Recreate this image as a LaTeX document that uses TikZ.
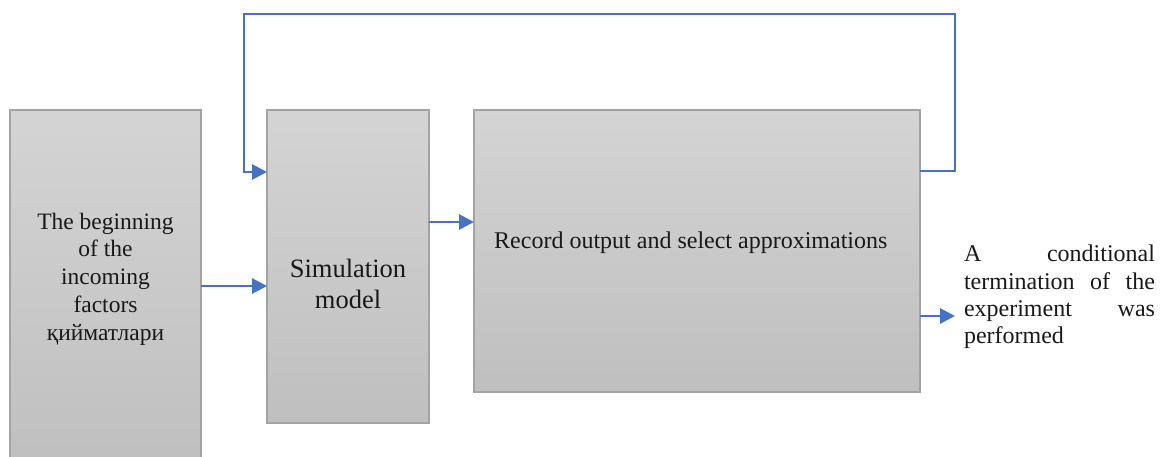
\documentclass[tikz,border=0pt]{standalone}
\usepackage{fontspec}
\setmainfont{Liberation Serif}
\usetikzlibrary{arrows.meta}
\definecolor{flowblue}{RGB}{68,114,196}
\definecolor{boxedge}{RGB}{163,163,163}
\definecolor{boxtop}{RGB}{212,212,212}
\definecolor{boxbot}{RGB}{191,191,191}

\begin{document}
\begin{tikzpicture}[x=1pt,y=-1pt,
  block/.style={draw=boxedge, line width=1.3pt, top color=boxtop, bottom color=boxbot,
    inner sep=0pt, outer sep=0pt, minimum width=#1},
  txt/.style={inner sep=0pt, text=black!90},
  flow/.style={draw=flowblue, line width=2.8pt, line join=miter,
    -{Triangle[length=15pt,width=15pt]}}]
  \useasboundingbox (0,0) rectangle (1161,457);
  \clip (0,0) rectangle (1161,457);

  % blocks
  \node[block=191pt, minimum height=360pt] (inp) at (105.5,290) {};
  \node[block=162pt, minimum height=313pt] (sim) at (348,266.5) {};
  \node[block=446pt, minimum height=282pt] (rec) at (697,251) {};

  % block texts
  \node[txt, align=center, font=\fontsize{23.5}{27.7}\selectfont] (inptxt) at (105.5,279)
    {The beginning\\of the\\incoming\\factors\\қийматлари};
  \node[txt, align=center, font=\fontsize{26.5}{31}\selectfont] (simtxt) at (348,284)
    {Simulation\\model};
  \node[txt, anchor=west, font=\fontsize{24}{28}\selectfont] (rectxt) at (494,243)
    {Record output and select approximations};
  \node[txt, text width=191pt, align=left, font=\fontsize{24}{27.3}\selectfont] (endtxt) at (1059.5,297)
    {A\hfill conditional\\termination\hfill of\hfill the\\experiment\hfill was\\performed};

  % connector points
  \coordinate (out) at (955,316);
  \coordinate (fb1) at (955,171);
  \coordinate (fb2) at (955,14);
  \coordinate (fb3) at (244,14);
  \coordinate (fb4) at (244,172);

  % connectors
  \draw[flow] (inp.east |- 0,286) -- (sim.west |- 0,286);
  \draw[flow] (sim.east |- 0,222) -- (rec.west |- 0,222);
  \draw[flow] (rec.east |- out) -- (out);
  \draw[flow] (rec.east |- fb1) -- (fb1) -- (fb2) -- (fb3) -- (fb4) -- (sim.west |- fb4);
\end{tikzpicture}
\end{document}
